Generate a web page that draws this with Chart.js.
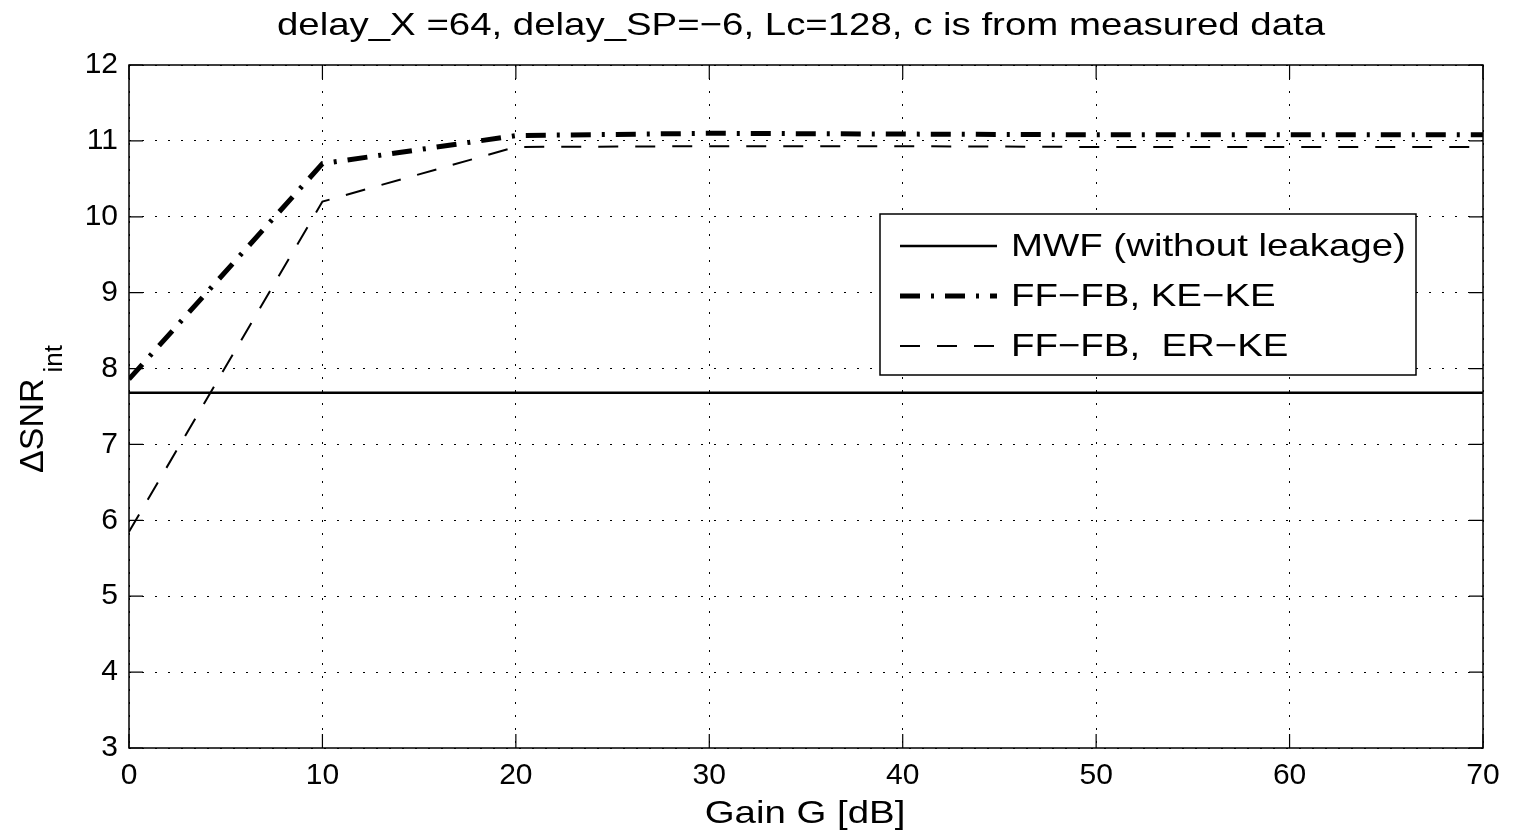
<!DOCTYPE html>
<html>
<head>
<meta charset="utf-8">
<script src="https://cdn.jsdelivr.net/npm/chart.js@4"></script>
<style>
  body { margin: 0; background: #fff; }
  #wrap { width: 1516px; height: 836px; }
</style>
</head>
<body>
<div id="wrap"><canvas id="snrChart"></canvas></div>
<script>
// values
const gainDb = [0, 10, 20, 30, 40, 50, 60, 70];
const mwfValues = [7.68, 7.68, 7.68, 7.68, 7.68, 7.68, 7.68, 7.68];
const keKeValues = [7.86, 10.7, 11.07, 11.1, 11.09, 11.08, 11.08, 11.08];
const erKeValues = [5.85, 10.2, 10.92, 10.93, 10.93, 10.92, 10.92, 10.92];
const seriesNames = ["MWF (without leakage)", "FF\u2212FB, KE\u2212KE", "FF\u2212FB,  ER\u2212KE"];
const xTicks = [0, 10, 20, 30, 40, 50, 60, 70];
const yTicks = [3, 4, 5, 6, 7, 8, 9, 10, 11, 12];

const titleText = "delay_X =64, delay_SP=\u22126, Lc=128, c is from measured data";
const xLabel = "Gain G [dB]";

const fontName = '"Liberation Sans", Arial, Helvetica, sans-serif';

function toPoints(values) {
  return values.map((v, i) => ({ x: gainDb[i], y: v }));
}

// text in the original is a bit wider than Liberation Sans, so stretch it
function wideText(ctx, txt, x, y, size, sx, align) {
  ctx.save();
  ctx.font = size + "px " + fontName;
  ctx.fillStyle = "#000";
  ctx.textAlign = align;
  ctx.textBaseline = "middle";
  ctx.translate(x, y);
  ctx.scale(sx, 1);
  ctx.fillText(txt, 0, 0);
  ctx.restore();
}

const decorPlugin = {
  id: "decor",
  afterDraw(chart) {
    const ctx = chart.ctx;
    const area = chart.chartArea;
    const xs = chart.scales.x;
    const ys = chart.scales.y;

    // box round the axes
    ctx.save();
    ctx.strokeStyle = "#000";
    ctx.lineWidth = 1.5;
    ctx.strokeRect(area.left, area.top, area.right - area.left, area.bottom - area.top);

    // inward tick marks on all four sides
    const tickLen = 14;
    ctx.lineWidth = 1.2;
    ctx.beginPath();
    xTicks.forEach(t => {
      const px = xs.getPixelForValue(t);
      ctx.moveTo(px, area.bottom);
      ctx.lineTo(px, area.bottom - tickLen);
      ctx.moveTo(px, area.top);
      ctx.lineTo(px, area.top + tickLen);
    });
    yTicks.forEach(t => {
      const py = ys.getPixelForValue(t);
      ctx.moveTo(area.left, py);
      ctx.lineTo(area.left + tickLen, py);
      ctx.moveTo(area.right, py);
      ctx.lineTo(area.right - tickLen, py);
    });
    ctx.stroke();
    ctx.restore();

    // title and x label
    wideText(ctx, titleText, 801, 26, 32, 1.2, "center");
    wideText(ctx, xLabel, 805, 814, 32, 1.2, "center");

    // y label with subscript
    ctx.save();
    ctx.fillStyle = "#000";
    ctx.translate(43, 473);
    ctx.rotate(-Math.PI / 2);
    ctx.font = "34px " + fontName;
    ctx.textAlign = "left";
    ctx.textBaseline = "alphabetic";
    ctx.fillText("\u0394SNR", 0, 0);
    const w = ctx.measureText("\u0394SNR").width;
    ctx.font = "26px " + fontName;
    ctx.fillText("int", w + 6, 19);
    ctx.restore();

    // legend box
    const box = { left: 880, top: 214, right: 1416, bottom: 375 };
    ctx.save();
    ctx.fillStyle = "#fff";
    ctx.fillRect(box.left, box.top, box.right - box.left, box.bottom - box.top);
    ctx.strokeStyle = "#000";
    ctx.lineWidth = 1.5;
    ctx.strokeRect(box.left, box.top, box.right - box.left, box.bottom - box.top);
    const rows = [246, 296, 346];
    chart.data.datasets.forEach((ds, i) => {
      ctx.save();
      ctx.strokeStyle = ds.borderColor;
      ctx.lineWidth = ds.borderWidth;
      ctx.lineCap = "butt";
      ctx.setLineDash(ds.borderDash || []);
      ctx.beginPath();
      ctx.moveTo(900, rows[i]);
      ctx.lineTo(997, rows[i]);
      ctx.stroke();
      ctx.restore();
      wideText(ctx, ds.label, 1011, rows[i] + 1, 32, 1.2, "left");
    });
    ctx.restore();
  }
};

new Chart(document.getElementById("snrChart"), {
  type: "line",
  data: {
    datasets: [
      {
        label: seriesNames[0],
        data: toPoints(mwfValues),
        borderColor: "#000",
        borderWidth: 2.5,
        borderDash: [],
        pointRadius: 0,
        tension: 0
      },
      {
        label: seriesNames[1],
        data: toPoints(keKeValues),
        borderColor: "#000",
        borderWidth: 5,
        borderDash: [20, 11, 3, 11],
        pointRadius: 0,
        tension: 0
      },
      {
        label: seriesNames[2],
        data: toPoints(erKeValues),
        borderColor: "#000",
        borderWidth: 2,
        borderDash: [20, 17],
        pointRadius: 0,
        tension: 0
      }
    ]
  },
  options: {
    responsive: true,
    maintainAspectRatio: false,
    animation: false,
    layout: { padding: { top: 65, right: 33, left: 0, bottom: 0 } },
    plugins: {
      legend: { display: false },
      title: { display: false },
      tooltip: { enabled: false }
    },
    scales: {
      x: {
        type: "linear",
        min: 0,
        max: 70,
        afterFit: s => { s.height = 88; },
        afterBuildTicks: s => { s.ticks = xTicks.map(v => ({ value: v })); },
        ticks: {
          color: "#000",
          font: { family: fontName, size: 30 },
          padding: 10,
          maxRotation: 0
        },
        grid: { color: "#000", lineWidth: 1, drawTicks: false },
        border: { display: false, dash: [2, 11] }
      },
      y: {
        min: 3,
        max: 12,
        afterFit: s => { s.width = 129; },
        afterBuildTicks: s => { s.ticks = yTicks.map(v => ({ value: v })); },
        ticks: {
          color: "#000",
          font: { family: fontName, size: 30 },
          padding: 11
        },
        grid: { color: "#000", lineWidth: 1, drawTicks: false },
        border: { display: false, dash: [2, 11] }
      }
    }
  },
  plugins: [decorPlugin]
});
</script>
</body>
</html>
